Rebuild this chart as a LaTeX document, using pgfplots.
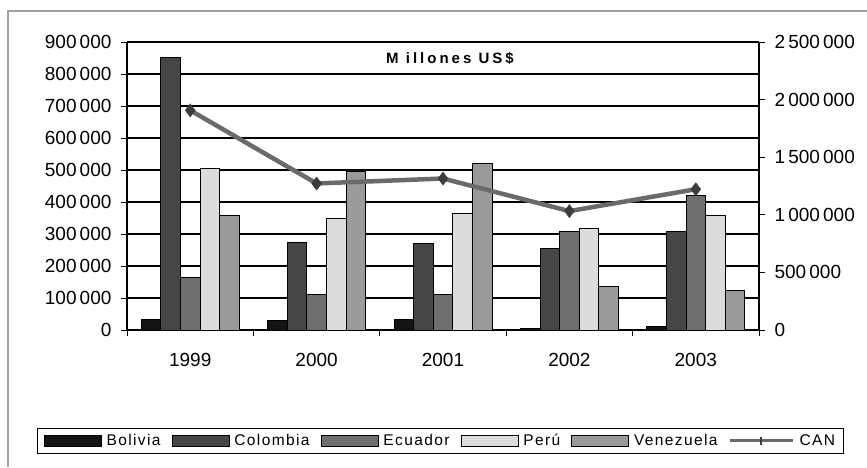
\documentclass[border=0pt]{standalone}
\usepackage{fontspec}
\setmainfont{Liberation Sans}
\usepackage{pgfplots}
\pgfplotsset{compat=1.18}

\definecolor{cBol}{HTML}{141414}
\definecolor{cCol}{HTML}{464646}
\definecolor{cEcu}{HTML}{6E6E6E}
\definecolor{cPer}{HTML}{DCDCDC}
\definecolor{cVen}{HTML}{9A9A9A}
\definecolor{cCAN}{HTML}{6A6A6A}
\definecolor{cMark}{HTML}{3C3C3C}
\definecolor{frame}{HTML}{A0A0A0}

\pgfplotsset{
  common/.style={
    scale only axis,
    width=632pt, height=288pt,
    at={(127pt,137pt)}, anchor=south west,
    xmin=-0.5, xmax=4.5,
    ymin=0,
    tick align=outside,
    major tick length=6pt,
    tick style={black, line width=1pt},
    axis line style={black, line width=1.2pt},
    scaled y ticks=false,
    /pgf/number format/.cd, fixed, 1000 sep={\,}, assume math mode=true,
    /pgfplots/.cd,
    tick label style={font=\fontsize{19}{22}\selectfont},
  },
  barimg/.style={legend image code/.code={\draw[##1,line width=0.8pt] (0pt,-5.5pt) rectangle (57pt,5.5pt);}},
}

\begin{document}
\begin{tikzpicture}
\useasboundingbox (0,0) rectangle (867pt,467pt);
\draw[frame, line width=2pt] (8pt,0pt) -- (8pt,456pt) -- (870pt,456pt);

\begin{axis}[
  common,
  ymax=900000,
  ybar=0pt,
  bar width=19.6pt,
  axis y line*=left,
  axis x line*=bottom,
  ytick={0,100000,...,900000},
  yticklabel style={xshift=-6pt},
  xtick={-0.5,0.5,...,4.5},
  xticklabels={1999,2000,2001,2002,2003},
  x tick label as interval,
  xticklabel style={yshift=-14pt},
  ymajorgrids,
  grid style={black, line width=1.1pt},
]
\addplot[draw=black, line width=0.8pt, fill=cBol] coordinates {(0,34000) (1,29000) (2,34000) (3,5000) (4,12000)};
\addplot[draw=black, line width=0.8pt, fill=cCol] coordinates {(0,851000) (1,275000) (2,270000) (3,254000) (4,308000)};
\addplot[draw=black, line width=0.8pt, fill=cEcu] coordinates {(0,163000) (1,112000) (2,112000) (3,308000) (4,420000)};
\addplot[draw=black, line width=0.8pt, fill=cPer] coordinates {(0,504000) (1,348000) (2,364000) (3,318000) (4,359000)};
\addplot[draw=black, line width=0.8pt, fill=cVen] coordinates {(0,359000) (1,497000) (2,520000) (3,135000) (4,123000)};
\node[font=\bfseries\fontsize{15}{17}\selectfont\addfontfeature{LetterSpace=20}] at (rel axis cs:0.511,0.944) {M illones US\$};
\end{axis}

\begin{axis}[
  common,
  ymax=2500000,
  axis y line*=right,
  axis x line=none,
  ytick={0,500000,...,2500000},
  yticklabel style={xshift=6pt},
  legend columns=6,
  legend style={
    at={(-0.142,-0.340)}, anchor=north west,
    draw=black, line width=1pt, fill=white,
    font=\fontsize{15.5}{18}\selectfont\addfontfeature{LetterSpace=9},
    inner xsep=6pt, inner ysep=4pt,
    /tikz/every odd column/.style={column sep=3pt},
    /tikz/every even column/.style={column sep=9pt},
  },
]
\addlegendimage{barimg, draw=black, fill=cBol}
\addlegendentry{Bolivia}
\addlegendimage{barimg, draw=black, fill=cCol}
\addlegendentry{Colombia}
\addlegendimage{barimg, draw=black, fill=cEcu}
\addlegendentry{Ecuador}
\addlegendimage{barimg, draw=black, fill=cPer}
\addlegendentry{Perú}
\addlegendimage{barimg, draw=black, fill=cVen}
\addlegendentry{Venezuela}
\addplot[cCAN, line width=4.5pt, mark=diamond*, mark size=6.5pt,
  mark options={draw=cMark, fill=cMark, line width=0.5pt},
  legend image code/.code={\draw[cCAN, line width=3pt] (0pt,0pt) -- (63pt,0pt);
    \draw[cMark, line width=1.5pt] (31pt,-4pt) -- (31pt,4pt);}]
  coordinates {(0,1907000) (1,1272000) (2,1315000) (3,1032000) (4,1222000)};
\addlegendentry{CAN}
\end{axis}
\end{tikzpicture}
\end{document}
